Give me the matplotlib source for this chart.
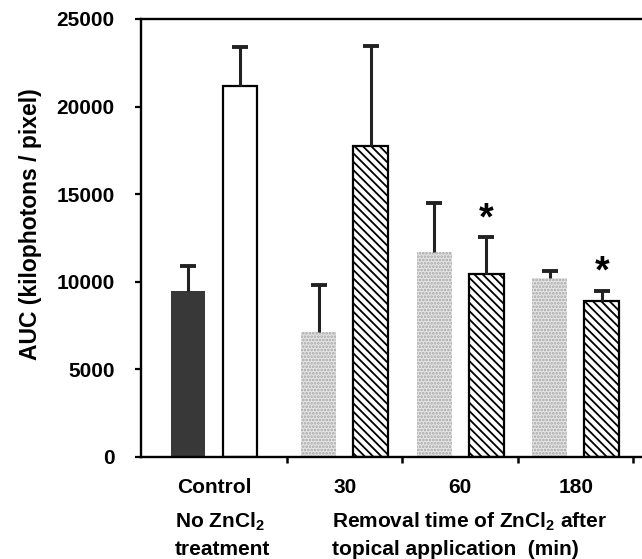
"""AUC after topical ZnCl2 application - bar chart
"""
import matplotlib as mpl
import matplotlib.pyplot as plt
import numpy as np
from matplotlib.transforms import blended_transform_factory

mpl.rcParams['font.family'] = 'Liberation Sans'
mpl.rcParams['font.weight'] = 'bold'
mpl.rcParams['font.size'] = 15.
mpl.rcParams['mathtext.fontset'] = 'custom'
mpl.rcParams['mathtext.rm'] = 'Liberation Sans:bold'
mpl.rcParams['mathtext.bf'] = 'Liberation Sans:bold'
mpl.rcParams['mathtext.it'] = 'Liberation Sans:bold'
mpl.rcParams['hatch.linewidth'] = 1.3

# group labels / positions on the category axis
group_labels = ['Control', '30', '60', '180']
group_pos = [0.868, 2.0, 3.0, 4.0]
group_edges = [1.5, 2.5, 3.5, 4.5]

# left bar of each group (control: no ZnCl2 ; others: first condition)
left_vals = [9490, 7150, 11720, 10200]
left_err = [1410, 2650, 2800, 440]
# right bar of each group
right_vals = [21180, 17770, 10430, 8920]
right_err = [2200, 5690, 2150, 570]
# significance markers (group index, y position)
star_groups = [2, 3]
star_y = [13570, 10540]

yticks = [0, 5000, 10000, 15000, 20000, 25000]


def upper_errorbar(ax, x, vals, errs):
    zeros = np.zeros(len(x))
    eb = ax.errorbar(x, vals, yerr=[zeros, errs], fmt='none',
                     ecolor='#222222', elinewidth=2.2, capsize=5.5,
                     capthick=2.8)
    # only keep the upper cap
    eb[1][0].set_visible(False)


def auc_plot(plot_path):
    fig = plt.figure(figsize=(6.42, 5.59), dpi=100)
    ax = fig.add_axes([141/642., 1 - 457/559., 501/642., 438/559.])

    off = 0.225
    w = 0.30
    pos = np.array(group_pos)

    upper_errorbar(ax, pos - off, left_vals, left_err)
    upper_errorbar(ax, pos + off, right_vals, right_err)

    # control group: solid dark / open
    ax.bar(pos[0] - off, left_vals[0], w, color='#383838', linewidth=0)
    ax.bar(pos[0] + off, right_vals[0], w, facecolor='white',
           edgecolor='black', linewidth=1.6)
    # treated groups: stippled / hatched
    ax.bar(pos[1:] - off, left_vals[1:], w, facecolor='#e6e6e6',
           edgecolor='#a5a5a5', hatch='.....', linewidth=0)
    ax.bar(pos[1:] + off, right_vals[1:], w, facecolor='white',
           edgecolor='black', hatch='\\\\\\\\', linewidth=1.6)

    for g, y in zip(star_groups, star_y):
        ax.text(pos[g] + off, y, '*', ha='center', va='center',
                fontsize=27, fontweight='bold')

    ax.set_xlim(0.236, 0.236 + 501/115.5)
    ax.set_ylim(0, 25000)
    ax.set_yticks(yticks)
    ax.set_xticks(group_edges)
    ax.set_xticklabels([])
    ax.tick_params(axis='y', direction='out', length=4, width=1.6, pad=15,
                   labelsize=15)
    ax.tick_params(axis='x', direction='out', length=4, width=1.8)
    for s in ['left', 'bottom', 'top']:
        ax.spines[s].set_linewidth(1.7)
    ax.spines['right'].set_visible(False)

    trans = blended_transform_factory(ax.transData, fig.transFigure)
    for x, lab in zip(pos, group_labels):
        ax.text(x, 1 - 493/559., lab, transform=trans, ha='center',
                va='baseline', fontsize=15)

    fig.text(175/642., 1 - 528/559., r'No ZnCl$_\mathbf{2}$', ha='left',
             va='baseline', fontsize=15)
    fig.text(175/642., 1 - 555/559., 'treatment', ha='left',
             va='baseline', fontsize=15)
    fig.text(332/642., 1 - 528/559., r'Removal time of ZnCl$_\mathbf{2}$ after',
             ha='left', va='baseline', fontsize=15)
    fig.text(332/642., 1 - 555/559., 'topical application  (min)',
             ha='left', va='baseline', fontsize=15)

    fig.text(31/642., 1 - 224/559., 'AUC (kilophotons / pixel)', rotation=90,
             ha='center', va='center', fontsize=16.5)

    plt.savefig(plot_path, dpi=100)
    plt.close()


def main():
    auc_plot('out.png')


if __name__ == '__main__':
    main()
